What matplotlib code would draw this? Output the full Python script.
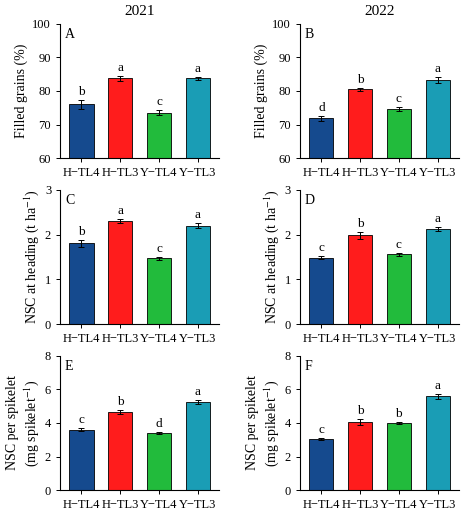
import matplotlib.pyplot as plt
import numpy as np
plt.rcParams['font.family'] = ['Liberation Serif', 'DejaVu Serif']
plt.rcParams['mathtext.fontset'] = 'stix'

cats = ['H−TL4', 'H−TL3', 'Y−TL4', 'Y−TL3']
colors = ['#154a8e', '#ff1c1c', '#22bb3c', '#1a9db5']
A = [76.0, 83.7, 73.5, 83.7]; Ae = [1.3, 0.7, 0.8, 0.5]; Al = ['b', 'a', 'c', 'a']
B = [71.8, 80.5, 74.6, 83.2]; Be = [0.7, 0.5, 0.5, 0.8]; Bl = ['d', 'b', 'c', 'a']
C = [1.80, 2.30, 1.47, 2.20]; Ce = [0.07, 0.04, 0.03, 0.05]; Cl = ['b', 'a', 'c', 'a']
D = [1.48, 1.98, 1.56, 2.12]; De = [0.03, 0.07, 0.03, 0.04]; Dl = ['c', 'b', 'c', 'a']
E = [3.60, 4.65, 3.40, 5.25]; Ee = [0.08, 0.12, 0.05, 0.10]; El = ['c', 'b', 'd', 'a']
F = [3.02, 4.05, 4.00, 5.60]; Fe = [0.06, 0.20, 0.05, 0.15]; Fl = ['c', 'b', 'b', 'a']

panels = [(A, Ae, Al, 'A', (60, 100), [60, 70, 80, 90, 100]),
          (B, Be, Bl, 'B', (60, 100), [60, 70, 80, 90, 100]),
          (C, Ce, Cl, 'C', (0, 3), [0, 1, 2, 3]),
          (D, De, Dl, 'D', (0, 3), [0, 1, 2, 3]),
          (E, Ee, El, 'E', (0, 8), [0, 2, 4, 6, 8]),
          (F, Fe, Fl, 'F', (0, 8), [0, 2, 4, 6, 8])]
ylabels = ['Filled grains (%)', 'NSC at heading (t ha$^{-1}$)',
           'NSC per spikelet\n(mg spikelet$^{-1}$)']

fig = plt.figure(figsize=(4.74, 5.27), dpi=100)
lefts = [0.127, 0.633]
bottoms = [0.70, 0.385, 0.07]
w, h = 0.335, 0.255
for i, (vals, errs, lets, tag, ylim, ticks) in enumerate(panels):
    r, c = divmod(i, 2)
    ax = fig.add_axes([lefts[c], bottoms[r], w, h])
    x = np.arange(4)
    ax.bar(x, np.array(vals) - ylim[0], bottom=ylim[0], width=0.62, color=colors,
           edgecolor='black', linewidth=0.6)
    ax.errorbar(x, vals, yerr=errs, fmt='none', ecolor='black', capsize=2.5, elinewidth=0.7, capthick=0.7)
    span = ylim[1] - ylim[0]
    for xi, v, e, l in zip(x, vals, errs, lets):
        ax.text(xi, v + e + span * 0.015, l, ha='center', va='bottom', fontsize=9.5)
    ax.set_ylim(*ylim); ax.set_yticks(ticks); ax.set_xlim(-0.55, 3.55)
    ax.set_xticks(x); ax.set_xticklabels(cats, fontsize=9)
    ax.tick_params(labelsize=9, width=0.7, length=3)
    for s in ['top', 'right']:
        ax.spines[s].set_visible(False)
    ax.text(0.03, 0.97, tag, transform=ax.transAxes, fontsize=10, va='top')
    ax.set_ylabel(ylabels[r], fontsize=10, labelpad=3)
    if r == 0:
        ax.set_title(['2021', '2022'][c], fontsize=11, pad=6)
fig.savefig('out.png', dpi=100)
